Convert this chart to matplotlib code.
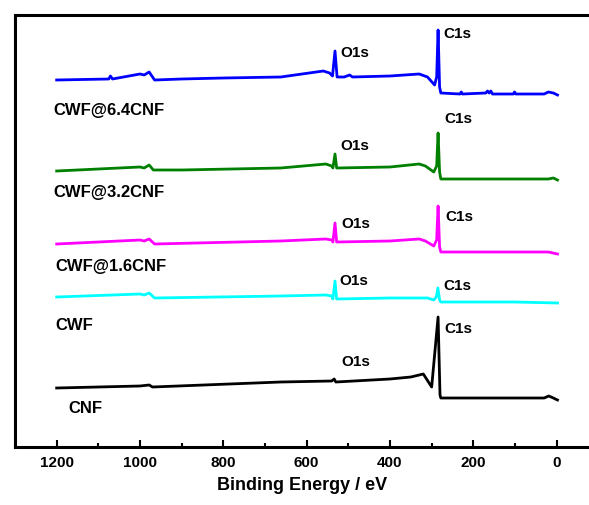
import matplotlib
matplotlib.use("Agg")
import matplotlib.pyplot as plt
from matplotlib.ticker import MultipleLocator

plt.rcParams["font.family"] = ["Liberation Sans", "DejaVu Sans"]
plt.rcParams["font.weight"] = "bold"

# binding energy (eV) / intensity (a.u., already offset)
e_64 = [1200, 1075, 1071, 1066, 1000, 990, 978, 965, 900, 800, 662, 560, 545, 538, 532, 527,
        510, 497, 490, 400, 330, 310, 293, 288, 284.6, 281, 278, 232, 229, 226, 170, 166, 162,
        158, 154, 104, 101, 98, 30, 20, 8, -2]
i_64 = [367, 368, 371, 368, 373, 372, 375, 367, 368, 369, 370, 376, 374, 371, 396, 370,
        370, 372, 370, 371, 373, 370, 362, 370, 417, 360, 354, 353, 355, 353, 354, 356, 354,
        356, 353, 353, 355, 353, 353, 355, 354, 352]

e_32 = [1200, 1000, 990, 978, 968, 900, 662, 554, 540, 537, 532, 528, 400, 330, 315, 295, 288,
        284.6, 281, 278, 100, 20, 8, -2]
i_32 = [276, 280, 279, 282, 277, 277, 279, 283, 281, 279, 293, 279, 280, 283, 281, 275, 281,
        314, 275, 268, 268, 268, 269, 267]

e_16 = [1200, 1000, 990, 978, 965, 662, 554, 540, 537, 532, 528, 400, 330, 315, 295, 288,
        284.6, 281, 278, 100, 20, -2]
i_16 = [203, 207, 206, 208, 203, 206, 208, 207, 205, 224, 205, 206, 208, 206, 201, 207,
        241, 200, 195, 195, 195, 193]

e_cwf = [1200, 1000, 990, 978, 965, 662, 554, 540, 537, 532, 528, 400, 310, 295, 289, 285,
         281, 278, 100, -2]
i_cwf = [150, 153, 152, 154, 149, 151, 152, 151, 148, 166, 148, 149, 149, 147, 150, 159,
         147, 145, 145, 144]

e_cnf = [1200, 1000, 978, 970, 662, 540, 534, 530, 400, 350, 320, 300, 284.6, 280, 278, 30,
         19, 8, -2]
i_cnf = [59, 61, 62, 60, 65, 66, 68, 65, 68, 70, 73, 60, 130, 52, 49, 49, 51, 49, 47]

names = ["CWF@6.4CNF", "CWF@3.2CNF", "CWF@1.6CNF", "CWF", "CNF"]
colors = ["#0000ff", "#008000", "#ff00ff", "#00ffff", "#000000"]

fig = plt.figure(figsize=(5.89, 5.06), dpi=100)
ax = fig.add_axes([15 / 589, 58 / 506, 585 / 589, 432 / 506])

spectra = [(e_64, i_64), (e_32, i_32), (e_16, i_16), (e_cwf, i_cwf), (e_cnf, i_cnf)]
for (e, i), c in zip(spectra, colors):
    ax.plot(e, i, color=c, lw=2.0, solid_joinstyle="round")

# text placement (eV, a.u.)
name_pos = [(1207, 338), (1207, 255), (1202, 182), (1202, 123), (1171, 39)]
o1s_pos = [(518, 395), (518, 302), (516, 224), (521, 167), (516, 86)]
c1s_pos = [(271, 414), (269, 329), (266, 231), (271, 162), (269, 119)]

for n, p in zip(names, name_pos):
    ax.text(p[0], p[1], n, fontsize=12, fontweight="bold", ha="left", va="center")
for p in o1s_pos:
    ax.text(p[0], p[1], "O1s", fontsize=11, fontweight="bold", ha="left", va="center")
for p in c1s_pos:
    ax.text(p[0], p[1], "C1s", fontsize=11, fontweight="bold", ha="left", va="center")

ax.set_xlim(1300, -104)
ax.set_ylim(0, 432)
ax.set_xticks([1200, 1000, 800, 600, 400, 200, 0])
ax.xaxis.set_minor_locator(MultipleLocator(100))
ax.tick_params(axis="x", which="major", direction="in", length=5, width=1.5,
               labelsize=11, pad=6, top=False)
ax.tick_params(axis="x", which="minor", direction="in", length=3, width=1.5, top=False)
ax.set_yticks([])
for lab in ax.get_xticklabels():
    lab.set_fontweight("bold")
for s in ax.spines.values():
    s.set_linewidth(2.2)

ax.set_xlabel("Binding Energy / eV", fontsize=13, fontweight="bold")
ax.xaxis.set_label_coords(0.49, -0.067)
ax.xaxis.label.set_va("top")

fig.savefig("out.png", dpi=100)
